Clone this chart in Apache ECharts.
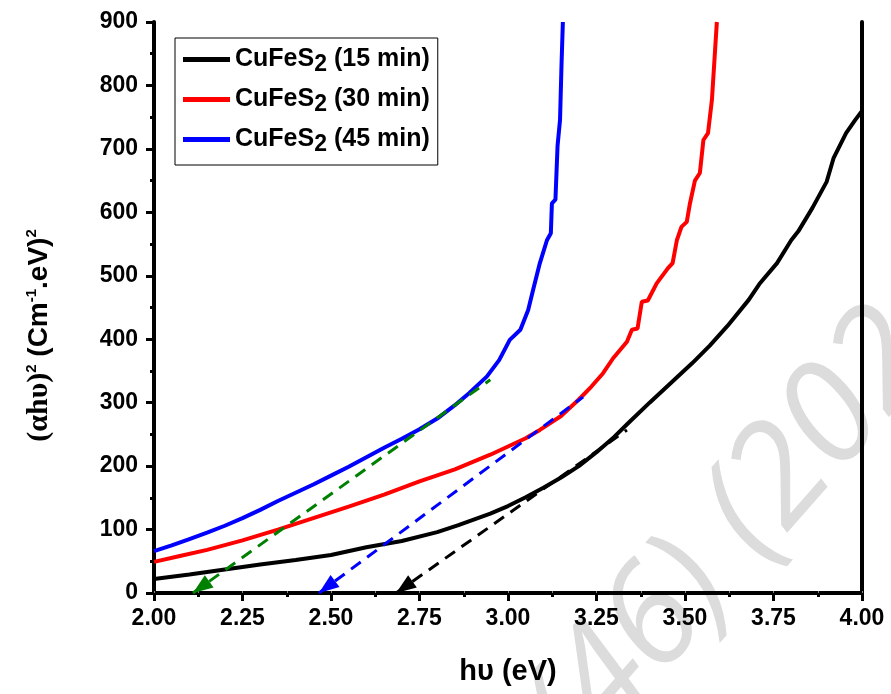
<!DOCTYPE html>
<html><head><meta charset="utf-8">
<script src="https://cdn.jsdelivr.net/npm/echarts@6/dist/echarts.min.js"></script>
<style>html,body{margin:0;padding:0;background:#fff}#c{width:891px;height:694px}</style>
</head><body><div id="c"></div>
<script>
// ---- data ----
const seriesNames = ['CuFeS2 (15 min)', 'CuFeS2 (30 min)', 'CuFeS2 (45 min)'];
const seriesColors = ['#000000', '#ff0000', '#0000ff'];

const black15 = [[2.00,22],[2.10,29],[2.20,37],[2.30,45],[2.40,52],[2.50,60],[2.60,72],[2.70,82],[2.80,96],[2.86,107],[2.95,125],[3.00,137],[3.05,151],[3.10,166],[3.15,182],[3.20,200],[3.25,222],[3.30,246],[3.34,268],[3.40,300],[3.46,331],[3.52,362],[3.57,390],[3.62,421],[3.68,462],[3.71,487],[3.76,520],[3.80,556],[3.82,570],[3.86,607],[3.90,648],[3.92,686],[3.955,725],[3.98,745],[4.00,760]];

const red30 = [[2.00,49],[2.07,58],[2.15,68],[2.25,83],[2.35,100],[2.45,118],[2.55,136],[2.65,155],[2.75,176],[2.85,195],[2.95,218],[3.00,231],[3.05,244],[3.09,257],[3.15,279],[3.20,305],[3.235,325],[3.268,346],[3.297,370],[3.336,396],[3.35,415],[3.366,417],[3.378,459],[3.395,461],[3.42,488],[3.452,512],[3.465,520],[3.477,556],[3.49,577],[3.505,585],[3.514,614],[3.528,650],[3.542,662],[3.552,714],[3.565,725],[3.576,777],[3.585,856],[3.59,900]];

const blue45 = [[2.00,66],[2.05,75],[2.10,85],[2.15,95],[2.20,106],[2.25,118],[2.30,131],[2.35,145],[2.40,158],[2.45,171],[2.50,185],[2.55,199],[2.60,214],[2.65,229],[2.70,243],[2.75,258],[2.80,275],[2.85,296],[2.89,315],[2.94,341],[2.975,367],[3.005,399],[3.035,415],[3.057,446],[3.071,478],[3.09,520],[3.11,556],[3.121,567],[3.124,614],[3.134,620],[3.14,705],[3.147,746],[3.151,829],[3.155,900]];

// Tauc extrapolation lines: [intercept point on x axis, upper end]
const fitGreen = [[2.11,0],[2.95,336]];
const fitBlue  = [[2.466,0],[3.212,309]];
const fitBlack = [[2.684,0],[3.336,257]];
const fitColors = ['#008000', '#0000ff', '#000000'];

const xMin = 2, xMax = 4, xStep = 0.25;
const yMin = 0, yMax = 900, yStep = 100;

// ---- chart ----
const FONT = '"Liberation Sans", Arial, sans-serif';
const chart = echarts.init(document.getElementById('c'));

function curve(name, data, color) {
  return {
    name: name, type: 'line', data: data, symbol: 'none', smooth: false,
    lineStyle: { color: color, width: 4 }, itemStyle: { color: color },
    z: 3, animation: false
  };
}
function fit(pts, color) {
  return {
    type: 'line', data: [], silent: true, animation: false,
    markLine: {
      silent: true, animation: false,
      symbol: ['triangle', 'none'], symbolSize: [15, 20],
      symbolOffset: [[0, 10], 0],
      label: { show: false },
      lineStyle: { color: color, width: 3, type: [12, 8] },
      data: [[{ coord: pts[0] }, { coord: pts[1] }]]
    },
    z: 4
  };
}

const option = {
  backgroundColor: '#ffffff',
  animation: false,
  grid: { left: 154, right: 29, top: 22, bottom: 101 },
  legend: {
    data: seriesNames,
    orient: 'vertical',
    left: 175, top: 38,
    icon: 'rect', itemWidth: 47, itemHeight: 5,
    itemGap: 11,
    padding: [9, 8, 9, 8],
    borderColor: '#000', borderWidth: 1, backgroundColor: '#fff',
    selectedMode: false,
    formatter: n => '{a|' + n.replace('S2', 'S}{b|2}{a|') + '}',
    textStyle: {
      color: '#000',
      rich: {
        a: { fontFamily: FONT, fontWeight: 'bold', fontSize: 25, color: '#000' },
        b: { fontFamily: FONT, fontWeight: 'bold', fontSize: 23, color: '#000', padding: [10, 0, 0, 0] }
      }
    }
  },
  xAxis: [{
    type: 'value', min: xMin, max: xMax, interval: xStep,
    name: 'h\u03c5 (eV)', nameLocation: 'middle', nameGap: 64,
    nameTextStyle: { fontFamily: FONT, fontWeight: 'bold', fontSize: 29, color: '#000' },
    axisLine: { lineStyle: { color: '#000', width: 4 } },
    axisTick: { length: 8, lineStyle: { color: '#000', width: 3 } },
    minorTick: { show: true, splitNumber: 2, length: 4, lineStyle: { color: '#000', width: 3 } },
    splitLine: { show: false },
    axisLabel: { fontFamily: FONT, fontWeight: 'bold', fontSize: 23, color: '#000', margin: 14,
      formatter: v => v.toFixed(2) }
  }, {
    type: 'value', position: 'top', min: xMin, max: xMax, interval: xStep / 2,
    axisLine: { lineStyle: { color: '#000', width: 3 } },
    axisTick: { length: 2, lineStyle: { color: '#888', width: 1 } },
    axisLabel: { show: false }, splitLine: { show: false }
  }],
  yAxis: [{
    type: 'value', min: yMin, max: yMax, interval: yStep,
    name: '{s|(\u03b1h\u03c5)}{p|2}{n| (Cm}{p|-1}{n|.eV)}{p|2}',
    nameLocation: 'middle', nameGap: 100,
    nameTextStyle: {
      padding: [0, 56, 0, 0],
      rich: {
        s: { fontFamily: '"Liberation Serif", "Times New Roman", serif', fontWeight: 'bold', fontSize: 30, color: '#000' },
        n: { fontFamily: FONT, fontWeight: 'bold', fontSize: 28, color: '#000' },
        p: { fontFamily: FONT, fontWeight: 'bold', fontSize: 15, color: '#000', padding: [0, 0, 14, 0] }
      }
    },
    axisLine: { show: true, lineStyle: { color: '#000', width: 4 } },
    axisTick: { length: 8, lineStyle: { color: '#000', width: 3 } },
    minorTick: { show: true, splitNumber: 2, length: 4, lineStyle: { color: '#000', width: 3 } },
    splitLine: { show: false },
    axisLabel: { fontFamily: FONT, fontWeight: 'bold', fontSize: 23, color: '#000', margin: 16 }
  }, {
    type: 'value', position: 'right', min: yMin, max: yMax, interval: yStep,
    axisLine: { show: true, lineStyle: { color: '#000', width: 4 } },
    axisTick: { show: false }, axisLabel: { show: false }, splitLine: { show: false }
  }],
  graphic: [{
    type: 'text', z: -10, silent: true,
    x: 552, y: 740, rotation: 0.85,
    style: {
      text: '(46) (2024)', fill: '#dcdcdc',
      font: 'italic 140px "Open Sans", "DejaVu Sans", sans-serif',
      textAlign: 'left', textVerticalAlign: 'middle'
    }
  }],
  series: [
    curve(seriesNames[0], black15, seriesColors[0]),
    curve(seriesNames[1], red30, seriesColors[1]),
    curve(seriesNames[2], blue45, seriesColors[2]),
    fit(fitGreen, fitColors[0]),
    fit(fitBlue, fitColors[1]),
    fit(fitBlack, fitColors[2])
  ]
};
chart.setOption(option);
</script>
</body></html>
